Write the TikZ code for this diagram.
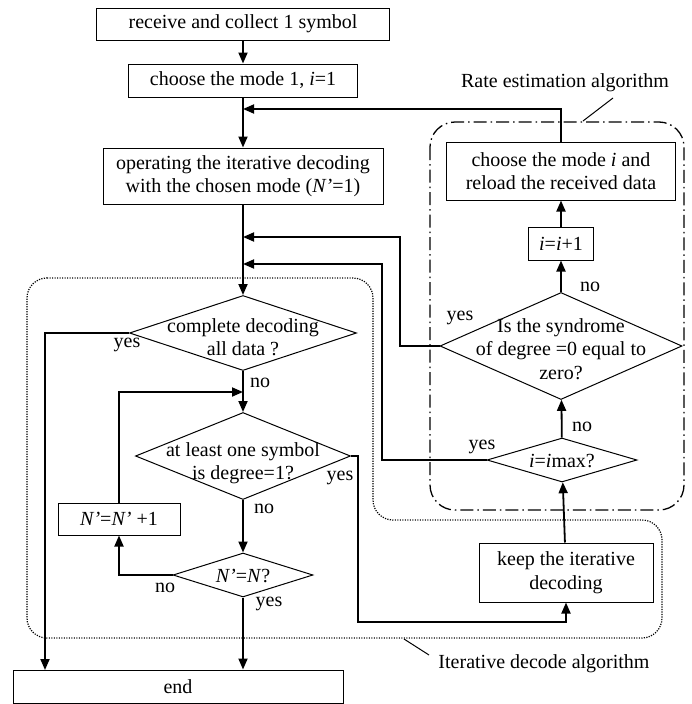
\documentclass[tikz,border=0pt]{standalone}
\usepackage{fontspec}
\setmainfont{Liberation Serif}
\usetikzlibrary{shapes.geometric,arrows.meta}
\newcommand{\flowFont}[0]{\fontsize{20}{23.5}\selectfont}
\newcommand{\linkWidth}[0]{1.8pt}
\newcommand{\boxWidth}[0]{1pt}
\newcommand{\Np}[0]{\textit{N'}}

\begin{document}
\begin{tikzpicture}[x=1pt, y=-1pt, font=\flowFont, >={Triangle[length=11pt,width=9pt]}]
  \tikzset{box/.style={draw, line width=\boxWidth, inner sep=0pt, align=center},
           dec/.style={draw, diamond, line width=\boxWidth, inner sep=0pt},
           link/.style={line width=\linkWidth, ->},
           tag/.style={inner sep=0pt}}
  \useasboundingbox (0,0) rectangle (691,704);
  % left column
  \node[box, minimum width=293pt, minimum height=32pt] (Box-1) at (243,24) {receive and collect 1 symbol};
  \node[box, minimum width=229pt, minimum height=33pt] (Box-2) at (243,80.5) {choose the mode 1, \textit{i}=1};
  \node[box, minimum width=280pt, minimum height=56pt] (Box-3) at (243,176) {operating the iterative decoding\\with the chosen mode (\Np=1)};
  \node[dec, minimum width=227pt, minimum height=75pt] (Dec-1) at (243,333) {};
  \node[tag, align=center] (Txt-1) at (243,337) {complete decoding\\all data ?};
  \node[dec, minimum width=215pt, minimum height=87pt] (Dec-2) at (243,456) {};
  \node[tag, align=center] (Txt-2) at (243,463) {at least one symbol\\is degree=1?};
  \node[dec, minimum width=140pt, minimum height=44pt] (Dec-3) at (243,575) {};
  \node[tag] (Txt-3) at (243,576) {\Np=\textit{N}?};
  \node[box, minimum width=122pt, minimum height=32pt] (Box-4) at (119,519) {\Np=\Np{} +1};
  \node[box, minimum width=330pt, minimum height=33pt] (Box-5) at (178,686.5) {end};
  % right column
  \node[box, minimum width=229pt, minimum height=58pt] (Box-6) at (561,171) {choose the mode \textit{i} and\\reload the received data};
  \node[box, minimum width=65pt, minimum height=33pt] (Box-7) at (561,243.5) {\textit{i}=\textit{i}+1};
  \node[dec, minimum width=242pt, minimum height=107pt] (Dec-4) at (561,346) {};
  \node[tag, align=center] (Txt-4) at (561,349) {Is the syndrome\\of degree =0 equal to\\zero?};
  \node[dec, minimum width=150pt, minimum height=44pt] (Dec-5) at (562,460) {};
  \node[tag] (Txt-5) at (562,461) {\textit{i}=\textit{i}max?};
  \node[box, minimum width=174pt, minimum height=59pt] (Box-8) at (566,572.5) {keep the iterative\\decoding};
  % junctions
  \coordinate (J-1) at (243,109);
  \coordinate (J-2) at (243,237);
  \coordinate (J-3) at (243,264);
  \coordinate (J-4) at (243,392);
  \coordinate (E-1) at (45,670);
  \coordinate (K-1) at (358,622);
  \coordinate (S-1) at (400,237);
  \coordinate (S-2) at (382,264);
  % links
  \draw[link] (Box-1) -- (Box-2);
  \draw[link] (Box-2) -- (Box-3);
  \draw[link] (Box-6.north) |- (J-1);
  \draw[link] (Box-3) -- (Dec-1);
  \draw[link] (Dec-4.west) -| (S-1) -- (J-2);
  \draw[link] (Dec-5.west) -| (S-2) -- (J-3);
  \draw[link] (Dec-1.west) -| (E-1);
  \draw[link] (Dec-1) -- (Dec-2);
  \draw[link] (Box-4.north) |- (J-4);
  \draw[link] (Dec-2) -- (Dec-3);
  \draw[link] (Dec-3.west) -| (Box-4.south);
  \draw[link] (Dec-3.south) -- (Dec-3.south |- Box-5.north);
  \draw[link] (Dec-2.east) -| (K-1) -| (Box-8.south);
  \draw[link] (Box-8) -- (Dec-5);
  \draw[link] (Dec-5) -- (Dec-4);
  \draw[link] (Dec-4) -- (Box-7);
  \draw[link] (Box-7) -- (Box-6);
  % answers
  \node[tag] (Yes-1) at (127,345) {yes};
  \node[tag] (No-1) at (260,383) {no};
  \node[tag] (Yes-2) at (340,478) {yes};
  \node[tag] (No-2) at (264,509) {no};
  \node[tag] (No-3) at (165,588) {no};
  \node[tag] (Yes-3) at (269,604) {yes};
  \node[tag] (No-4) at (582,427) {no};
  \node[tag] (Yes-4) at (482,447) {yes};
  \node[tag] (Yes-5) at (460,318) {yes};
  \node[tag] (No-5) at (590,287) {no};
  % regions
  \draw[line width=1.2pt, dash pattern=on 1.2pt off 1.3pt, rounded corners=20pt] (27,278) -- (373,278) -- (373,520) -- (662,520) -- (662,638) -- (27,638) -- cycle;
  \draw[line width=1.3pt, rounded corners=25pt, dash pattern=on 13pt off 4pt on 1.5pt off 4pt] (430,122) rectangle (684,510);
  \node[tag] (Rate) at (565,83) {Rate estimation algorithm};
  \node[tag] (Iter) at (544,664) {Iterative decode algorithm};
  \coordinate (R-1) at (583,121);
  \coordinate (R-2) at (613,98);
  \coordinate (I-1) at (404,639);
  \coordinate (I-2) at (429,655);
  \draw[line width=1pt] (R-1) -- (R-2);
  \draw[line width=1pt] (I-1) -- (I-2);
\end{tikzpicture}
\end{document}
